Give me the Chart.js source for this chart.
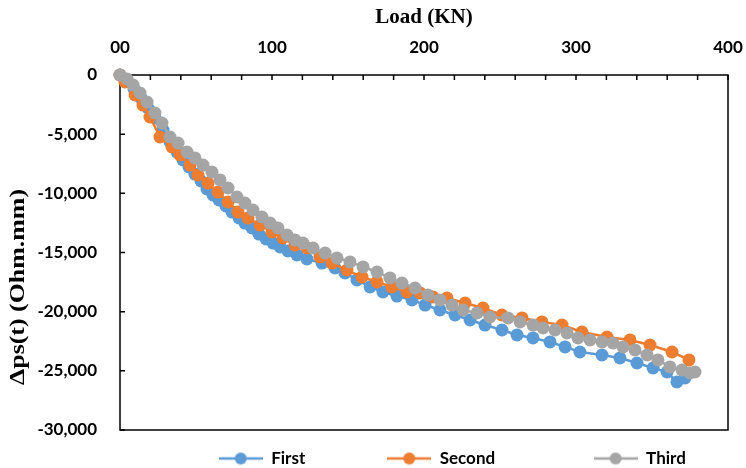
<!DOCTYPE html>
<html>
<head>
<meta charset="utf-8">
<script src="https://cdn.jsdelivr.net/npm/chart.js@4.4.0/dist/chart.umd.min.js"></script>
<style>
  html, body { margin: 0; padding: 0; background: #fff; }
  #wrap { width: 746px; height: 468px; }
</style>
</head>
<body>
<div id="wrap"><canvas id="chart"></canvas></div>
<script>
const seriesNames = ['First', 'Second', 'Third'];
const seriesColors = ['#5B9BD5', '#ED7D31', '#A5A5A5'];

const firstLoad = [0, 4.6, 9.2, 13.8, 18.4, 23, 28.3, 32.9, 37.5, 41.4, 45.4, 49.3, 53.3, 57.2, 61.2,
  65.1, 69.7, 73.7, 78.3, 82.2, 86.8, 91.4, 96.1, 100.7, 105.3, 110.5, 116.4, 123, 132.9, 141.4,
  148, 155.9, 164.5, 173, 182.2, 192.1, 200.7, 210.5, 220.4, 230.3, 240.1, 251.3, 261.2, 271.7,
  282.9, 292.8, 302.6, 317.1, 328.9, 340.1, 350.7, 359.9, 366.4, 371.7];
const firstRes = [0, -420, -1180, -1940, -2790, -3630, -4650, -5660, -6510, -7180, -7770, -8370, -8960, -9630, -10140,
  -10560, -11070, -11580, -12080, -12510, -12930, -13440, -13860, -14200, -14530, -14870, -15210, -15550, -15890, -16310,
  -16730, -17320, -17910, -18340, -18680, -19010, -19440, -19860, -20280, -20700, -21130, -21550, -21970, -22220,
  -22560, -22980, -23410, -23660, -23910, -24340, -24760, -25100, -25940, -25600];

const secondLoad = [0, 3.3, 9.9, 15.1, 19.7, 26.3, 34.2, 39.5, 46.1, 51.3, 57.9, 64.5, 71.1, 77.6, 84.2,
  92.1, 100, 107.2, 115.1, 123, 131.6, 139.5, 149.3, 159.2, 169.1, 178.9, 188.8, 197.4, 205.9, 215.1,
  227, 238.8, 251.3, 264.5, 277.6, 290.8, 303.9, 320.4, 335.5, 348.7, 363.2, 374.3];
const secondRes = [0, -590, -1690, -2540, -3550, -5240, -6080, -6760, -7610, -8450, -9130, -9890, -10730, -11580, -12080,
  -12680, -13270, -13770, -14370, -14620, -15380, -15890, -16480, -17070, -17490, -17910, -18340, -18420, -18760, -18840,
  -19270, -19690, -20280, -20530, -20870, -21130, -21720, -22140, -22390, -22820, -23410, -24080];

const thirdLoad = [0, 4.6, 8.6, 13.2, 17.8, 23, 27.6, 32.9, 38.2, 44.1, 49.3, 54.6, 60.5, 65.8, 71.1,
  77, 82.2, 87.5, 93.4, 98.7, 103.9, 109.9, 115.1, 120.4, 127, 134.9, 142.8, 151.3, 159.9, 169.1,
  177.6, 185.5, 194.1, 202.6, 210.5, 218.4, 225.7, 234.9, 243.4, 255.3, 263.2, 271.7, 278.3, 286.2, 294.1,
  301.3, 309.2, 317.1, 324.3, 330.9, 338.8, 346.7, 353.9, 361.8, 369.7, 375, 378.3];
const thirdRes = [0, -340, -850, -1520, -2280, -3210, -4060, -5240, -5750, -6510, -7010, -7610, -8200, -8870, -9550,
  -10310, -10820, -11410, -12000, -12510, -12930, -13520, -13940, -14200, -14620, -15040, -15460, -15800, -16220, -16650,
  -17150, -17580, -18000, -18590, -19010, -19440, -19860, -20110, -20450, -20530, -20870, -21130, -21380, -21550, -21800,
  -22220, -22390, -22560, -22650, -22980, -23240, -23660, -24080, -24670, -24930, -25180, -25100];

const xTitle = 'Load (KN)';
const yTitle = 'Δps(t) (Ohm.mm)';

const toPoints = (xs, ys) => xs.map((x, i) => ({ x, y: ys[i] }));
const seriesData = [
  toPoints(firstLoad, firstRes),
  toPoints(secondLoad, secondRes),
  toPoints(thirdLoad, thirdRes),
];

// legend symbol: short line with a dot in the middle
function legendMark(color) {
  const c = document.createElement('canvas');
  c.width = 44; c.height = 14;
  const g = c.getContext('2d');
  g.strokeStyle = color; g.lineWidth = 2.5;
  g.beginPath(); g.moveTo(0, 7); g.lineTo(44, 7); g.stroke();
  g.fillStyle = color;
  g.beginPath(); g.arc(22, 7, 6, 0, Math.PI * 2); g.fill();
  return c;
}
const marks = seriesColors.map(legendMark);
const legendGap = [' '.repeat(15), ' '.repeat(19), ' '.repeat(9)];

const frame = {
  id: 'frame',
  beforeDatasetsDraw(chart) {
    const { ctx, chartArea: a, scales: { x, y } } = chart;
    ctx.save();
    ctx.strokeStyle = '#000';
    ctx.lineWidth = 1.5;
    ctx.strokeRect(a.left, a.top, a.right - a.left, a.bottom - a.top);
    ctx.beginPath();
    x.ticks.forEach(t => {
      const px = x.getPixelForValue(t.value);
      ctx.moveTo(px, a.top); ctx.lineTo(px, a.top + 5);
    });
    y.ticks.forEach(t => {
      const py = y.getPixelForValue(t.value);
      ctx.moveTo(a.left, py); ctx.lineTo(a.left + 5, py);
    });
    ctx.stroke();
    ctx.restore();
  },
  afterDraw(chart) {
    const { ctx, chartArea: a } = chart;
    ctx.save();
    ctx.fillStyle = '#000';
    ctx.textAlign = 'center';
    ctx.textBaseline = 'middle';
    ctx.font = 'bold 21px "Liberation Serif"';
    ctx.fillText(xTitle, (a.left + a.right) / 2, 18);

    ctx.translate(19, 287);
    ctx.rotate(-Math.PI / 2);
    const w = ctx.measureText(yTitle).width;
    ctx.scale(196 / w, 1);
    ctx.fillText(yTitle, 0, 0);
    ctx.restore();
  }
};

const tickFont = { family: 'Lato', weight: 'bold', size: 17 };

new Chart(document.getElementById('chart').getContext('2d'), {
  type: 'scatter',
  data: {
    datasets: seriesNames.map((name, i) => ({
      label: name,
      data: seriesData[i],
      showLine: true,
      borderColor: seriesColors[i],
      backgroundColor: seriesColors[i],
      borderWidth: 2.5,
      pointRadius: 6.5,
      pointHoverRadius: 6.5,
      pointBorderWidth: 0,
      clip: false,
      order: 2 - i,
    })),
  },
  options: {
    animation: false,
    responsive: true,
    maintainAspectRatio: false,
    layout: { padding: { left: 0, right: 3, top: 0, bottom: -9 } },
    scales: {
      x: {
        type: 'linear',
        position: 'top',
        min: 0,
        max: 400,
        grid: { display: false, drawTicks: false },
        border: { display: false },
        ticks: {
          stepSize: 20,
          autoSkip: false,
          maxRotation: 0,
          padding: 17,
          color: '#000',
          font: tickFont,
          callback: v => (v % 100 === 0 ? (v === 0 ? '00' : String(v)) : ''),
        },
        afterFit: s => { s.height = 75; s.paddingLeft = 0; s.paddingRight = 18; },
      },
      y: {
        min: -30000,
        max: 0,
        grid: { display: false, drawTicks: false },
        border: { display: false },
        ticks: {
          stepSize: 5000,
          padding: 23,
          color: '#000',
          font: tickFont,
          callback: v => v.toLocaleString('en-US'),
        },
        afterFit: s => { s.width = 120; },
      },
    },
    plugins: {
      legend: {
        position: 'bottom',
        align: 'end',
        labels: {
          usePointStyle: true,
          pointStyleWidth: 44,
          padding: 20,
          color: '#000',
          font: { family: 'Lato', weight: 'bold', size: 17 },
          generateLabels: chart => chart.data.datasets.map((ds, i) => ({
            text: ds.label + legendGap[i],
            pointStyle: marks[i],
            fillStyle: ds.borderColor,
            strokeStyle: ds.borderColor,
            lineWidth: 0,
            fontColor: '#000',
            hidden: false,
            datasetIndex: i,
          })),
        },
      },
      tooltip: { enabled: false },
    },
  },
  plugins: [frame],
});
</script>
</body>
</html>
